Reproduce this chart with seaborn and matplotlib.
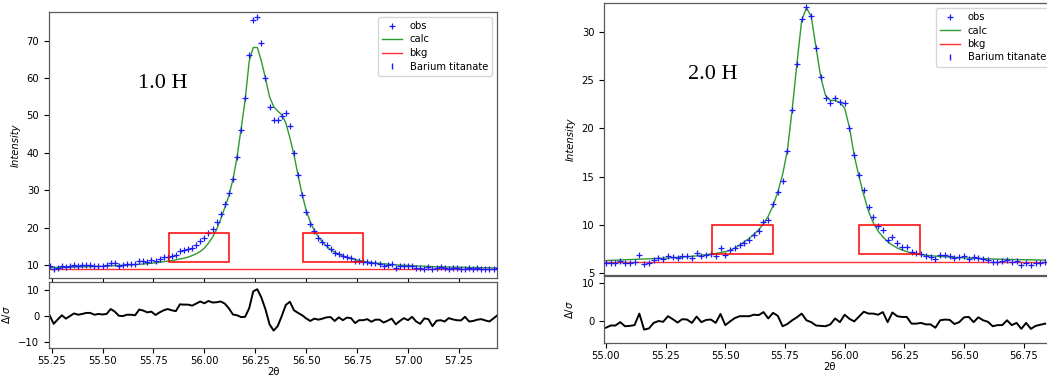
import numpy as np
import seaborn as sns
import matplotlib.pyplot as plt
from matplotlib.lines import Line2D
from matplotlib.patches import Rectangle

# ---- 1.0 H scan (2theta grid, 0.02 deg step) ----
tth_10 = np.round(np.linspace(55.24, 57.44, 111), 2)
obs_10 = [9.6, 8.8, 9.3, 9.7, 9.5, 9.7, 10.0, 9.8, 10.0, 10.0,
          10.0, 9.8, 9.8, 9.8, 10.0, 10.6, 10.4, 9.8, 10.0, 10.2,
          10.2, 10.2, 11.1, 11.0, 10.9, 11.3, 11.0, 11.5, 12.0, 12.2,
          12.4, 12.7, 13.8, 14.0, 14.3, 14.6, 15.3, 16.5, 17.1, 18.5,
          19.5, 21.4, 23.6, 26.3, 29.2, 33.0, 38.9, 46.0, 54.8, 66.1,
          75.6, 76.4, 69.3, 60.1, 52.3, 48.8, 48.8, 49.9, 50.6, 47.2,
          40.0, 34.1, 28.8, 24.3, 21.0, 19.2, 17.3, 16.1, 15.2, 14.2,
          13.3, 12.9, 12.4, 12.1, 11.8, 11.1, 11.1, 10.9, 10.7, 10.4,
          10.4, 10.2, 9.8, 10.0, 10.2, 9.3, 9.8, 9.8, 9.6, 9.8,
          9.3, 9.2, 9.0, 9.5, 8.8, 9.2, 9.5, 9.2, 9.0, 9.2,
          9.2, 9.0, 8.9, 9.2, 9.0, 9.2, 9.0, 8.9, 9.0, 8.9,
          9.2]
calc_10 = [9.3, 9.3, 9.35, 9.35, 9.4, 9.4, 9.45, 9.45, 9.5, 9.5,
           9.55, 9.6, 9.6, 9.65, 9.7, 9.75, 9.8, 9.85, 9.9, 9.95,
           10.0, 10.1, 10.15, 10.25, 10.35, 10.45, 10.55, 10.7, 10.85, 11.0,
           11.15, 11.35, 11.6, 11.8, 12.1, 12.5, 13.0, 13.6, 14.5, 15.8,
           17.4, 19.5, 22.2, 25.3, 28.5, 32.8, 38.7, 46.3, 54.0, 64.5,
           68.2, 68.2, 64.5, 60.0, 55.0, 52.4, 51.2, 50.2, 48.0, 44.0,
           39.5, 34.0, 28.9, 24.6, 21.5, 19.2, 17.5, 16.1, 15.0, 14.1,
           13.4, 12.9, 12.4, 12.0, 11.7, 11.45, 11.2, 11.0, 10.8, 10.65,
           10.5, 10.4, 10.3, 10.2, 10.1, 10.0, 9.95, 9.9, 9.85, 9.8,
           9.75, 9.7, 9.65, 9.6, 9.55, 9.5, 9.5, 9.45, 9.45, 9.4,
           9.4, 9.35, 9.35, 9.3, 9.3, 9.3, 9.25, 9.25, 9.25, 9.2,
           9.2]
diff_10 = [0.3, -3.0, -1.3, 0.3, -1.0, 0.0, 1.0, 0.5, 0.8, 1.2,
           1.2, 0.5, 0.8, 0.6, 0.8, 2.7, 1.7, 0.1, 0.0, 0.5,
           0.5, 0.3, 2.5, 2.1, 1.4, 1.7, 0.4, 1.4, 2.2, 2.7,
           2.2, 1.9, 4.5, 4.4, 4.4, 4.0, 4.8, 5.6, 4.9, 5.8,
           5.2, 5.3, 5.6, 4.8, 3.0, 0.6, 0.3, -0.4, -0.3, 3.0,
           9.5, 10.3, 7.1, 2.6, -3.2, -5.6, -3.9, 0.0, 4.3, 5.5,
           2.2, 1.2, 0.3, -0.9, -1.9, -1.0, -1.4, -1.0, -0.5, -0.4,
           -1.9, -0.5, -1.6, -0.6, -0.8, -2.7, -1.6, -1.6, -1.2, -2.2,
           -1.4, -1.4, -2.5, -1.8, -1.0, -3.2, -1.9, -0.8, -1.6, -0.3,
           -2.1, -3.0, -0.9, -1.2, -3.9, -1.8, -1.6, -2.1, -0.8, -1.3,
           -1.6, -1.7, -0.3, -2.1, -1.9, -1.4, -1.2, -1.7, -2.1, -0.9,
           0.4]
bkg_x_10 = [55.0, 57.6]
bkg_y_10 = [8.85, 8.85]
boxes_10 = [(55.828, 10.88, 56.122, 18.48), (56.483, 10.88, 56.778, 18.48)]

# ---- 2.0 H scan ----
tth_20 = np.round(np.linspace(55.00, 56.84, 93), 2)
obs_20 = [6.0, 6.05, 6.05, 6.3, 6.05, 6.05, 6.1, 6.85, 5.95, 6.05,
          6.4, 6.55, 6.5, 6.8, 6.65, 6.55, 6.8, 6.8, 6.6, 7.05,
          6.8, 6.9, 7.0, 6.8, 7.6, 6.9, 7.35, 7.6, 7.95, 8.1,
          8.45, 8.95, 9.4, 10.25, 10.5, 12.2, 13.45, 14.55, 17.65, 21.9,
          26.7, 31.3, 32.6, 31.65, 28.35, 25.3, 23.2, 22.6, 23.2, 22.75,
          22.6, 20.05, 17.2, 15.2, 13.6, 11.9, 10.8, 9.9, 9.5, 8.45,
          8.7, 8.1, 7.75, 7.7, 7.15, 7.05, 7.0, 6.8, 6.7, 6.45,
          6.9, 6.85, 6.8, 6.55, 6.7, 6.8, 6.5, 6.65, 6.55, 6.45,
          6.4, 6.15, 6.15, 6.2, 6.4, 6.15, 6.2, 5.85, 6.05, 5.85,
          6.05, 6.05, 6.1]
calc_20 = [6.3, 6.32, 6.34, 6.36, 6.38, 6.4, 6.42, 6.44, 6.46, 6.48,
           6.5, 6.52, 6.54, 6.56, 6.6, 6.63, 6.66, 6.7, 6.74, 6.78,
           6.85, 6.9, 6.97, 7.03, 7.12, 7.22, 7.36, 7.6, 7.9, 8.25,
           8.6, 9.0, 9.5, 10.1, 10.9, 12.0, 13.4, 15.2, 17.7, 21.9,
           26.7, 31.2, 32.5, 31.6, 28.4, 25.3, 23.4, 22.9, 22.9, 22.7,
           22.1, 20.1, 17.2, 15.0, 13.1, 11.4, 10.2, 9.35, 8.75, 8.25,
           7.9, 7.6, 7.4, 7.22, 7.08, 6.97, 6.9, 6.85, 6.8, 6.76,
           6.72, 6.69, 6.66, 6.63, 6.6, 6.58, 6.56, 6.54, 6.52, 6.5,
           6.48, 6.46, 6.44, 6.43, 6.42, 6.41, 6.4, 6.39, 6.38, 6.37,
           6.36, 6.35, 6.34]
diff_20 = [-1.9, -1.3, -1.3, -0.4, -1.5, -1.4, -1.2, 1.9, -2.4, -2.1,
           -0.6, -0.1, -0.3, 1.2, 0.4, -0.5, 0.4, 0.3, -0.6, 1.1,
           -0.4, 0.2, 0.3, -0.6, 1.8, -1.2, -0.2, 0.7, 1.2, 1.2,
           1.2, 1.6, 1.5, 2.3, 0.6, 2.1, 1.3, -1.5, -0.9, 0.1,
           0.9, 1.9, 0.1, -0.4, -1.3, -1.4, -1.5, -1.0, 0.6, -0.4,
           1.6, 0.5, -0.2, 1.1, 2.4, 1.9, 1.9, 1.6, 2.3, -0.4,
           2.2, 1.2, 1.0, 1.0, -0.8, -0.8, -0.6, -1.0, -1.0, -1.9,
           0.1, 0.3, 0.2, -0.9, -0.4, 0.9, 1.0, -0.4, 0.9, 0.1,
           -0.3, -1.5, -1.2, -1.2, 0.1, -1.2, -0.6, -2.2, -0.6, -2.2,
           -1.4, -1.1, -0.8]
bkg_x_20 = [54.9, 57.0]
bkg_y_20 = [6.1, 6.1]
boxes_20 = [(55.443, 6.97, 55.701, 9.97), (56.059, 6.97, 56.317, 9.97)]

plt.rcParams['font.family'] = ['DejaVu Sans']
plt.rcParams['font.size'] = 7.2
plt.rcParams['axes.linewidth'] = 0.9
plt.rcParams['xtick.major.pad'] = 2.5

W, H = 1047, 376
fig = plt.figure(figsize=(W / 100, H / 100), dpi=100)


def px_axes(x0, x1, top, bottom):
    return fig.add_axes([x0 / W, 1 - bottom / H, (x1 - x0) / W, (bottom - top) / H])


def panel(main, resid, tth, obs, calc, diff, bkg_x, bkg_y, boxes, tag, tag_pos):
    sns.scatterplot(x=tth, y=obs, marker='+', s=16, color='#1a1aff', linewidth=0.9,
                    ax=main, label='obs', zorder=3)
    sns.lineplot(x=tth, y=calc, color='#2e9a2e', linewidth=1.0, ax=main, label='calc')
    sns.lineplot(x=bkg_x, y=bkg_y, color='#ff3030', linewidth=1.0, ax=main, label='bkg')
    for x0, y0, x1, y1 in boxes:
        main.add_patch(Rectangle((x0, y0), x1 - x0, y1 - y0, fill=False,
                                 edgecolor='red', linewidth=1.1, zorder=4))
    handles, labels = main.get_legend_handles_labels()
    handles.append(Line2D([], [], color='#1a1aff', marker='|', linestyle='none', markersize=5))
    labels.append('Barium titanate')
    main.legend(handles, labels, loc='upper right', fontsize=7.2, handlelength=2.0,
                labelspacing=0.35)
    main.text(tag_pos[0], tag_pos[1], tag, transform=main.transAxes,
              family=['Liberation Serif'], fontsize=16, va='baseline', ha='left')
    main.set_ylabel('Intensity', style='italic')
    main.set_xlabel('')
    main.tick_params(labelbottom=False)

    sns.lineplot(x=tth, y=diff, color='black', linewidth=1.4, ax=resid)
    resid.set_ylabel(r'$\Delta/\sigma$')
    resid.set_xlabel('2θ', labelpad=0.5)
    resid.xaxis.set_major_formatter(plt.FormatStrFormatter('%.2f'))
    for a in (main, resid):
        for s in a.spines.values():
            s.set_color('0.35')


# left figure (1.0 H)
m1 = px_axes(49, 497, 12, 278)
r1 = px_axes(49, 497, 282, 348)
panel(m1, r1, tth_10, obs_10, calc_10, diff_10, bkg_x_10, bkg_y_10, boxes_10,
      '1.0 H', (0.198, 0.715))
m1.set_xlim(55.237, 57.437)
r1.set_xlim(55.237, 57.437)
m1.set_ylim(6.5, 77.7)
r1.set_ylim(-12.3, 13.1)
m1.set_xticks(np.arange(55.25, 57.3, 0.25))
r1.set_xticks(np.arange(55.25, 57.3, 0.25))
m1.set_yticks(range(10, 80, 10))
r1.set_yticks([-10, 0, 10])

# right figure (2.0 H) - runs past the right edge of the image
m2 = px_axes(604, 1055, 3, 275)
r2 = px_axes(604, 1055, 276, 343)
panel(m2, r2, tth_20, obs_20, calc_20, diff_20, bkg_x_20, bkg_y_20, boxes_20,
      '2.0 H', (0.1856, 0.7206))
m2.set_xlim(54.992, 56.881)
r2.set_xlim(54.992, 56.881)
m2.set_ylim(4.8, 33.0)
r2.set_ylim(-6.0, 12.0)
m2.set_xticks(np.arange(55.0, 56.8, 0.25))
r2.set_xticks(np.arange(55.0, 56.8, 0.25))
m2.set_yticks(range(5, 35, 5))
r2.set_yticks([0, 10])

fig.savefig('out.png', dpi=100)
